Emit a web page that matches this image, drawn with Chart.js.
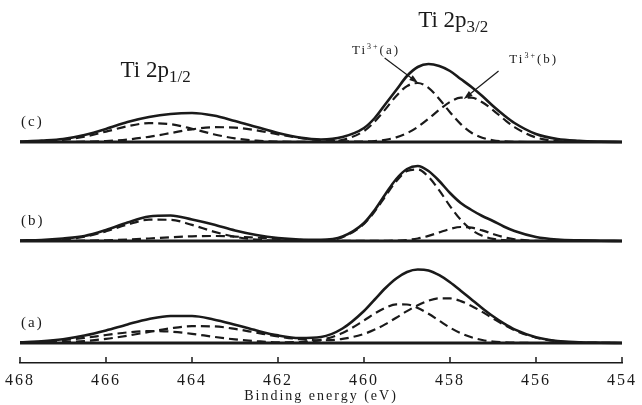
<!DOCTYPE html>
<html>
<head>
<meta charset="utf-8">
<script src="https://cdn.jsdelivr.net/npm/chart.js@4.4.1/dist/chart.umd.min.js"></script>
<style>
  html, body { margin: 0; padding: 0; background: #fff; }
  #wrap { width: 642px; height: 405px; }
</style>
</head>
<body>
<div id="wrap"><canvas id="c" width="642" height="405"></canvas></div>
<script>
// binding energy grid (eV), finer around the 2p3/2 peak
const energy = [468, 467.5, 467, 466.5, 466, 465.5, 465, 464.5, 464, 463.5, 463, 462.5, 462, 461.5, 461, 460.5,
                460, 459.75, 459.5, 459.25, 459, 458.75, 458.5, 458.25, 458, 457.75, 457.5, 457.25, 457, 456.75, 456.5,
                456, 455.5, 455, 454.5, 454];
const xTicks = [468, 466, 464, 462, 460, 458, 456, 454];

// intensities (arb. units, above each baseline)
const envA = [0.7, 1.7, 3.8, 7.5, 12.6, 18.6, 24, 27, 27, 23.6, 18.3, 12.5, 7.6, 5, 6, 14.5,
              32, 43.5, 55, 64.5, 71, 73.5, 72.5, 67.8, 60.8, 52.3, 43.5, 34.8, 26.7, 19.6, 13.6,
              5.8, 2, 0.8, 0.3, 0];
const ti3aA = [0.5, 1.3, 2.8, 5.1, 8.0, 10.6, 12, 11.4, 9.2, 6.2, 3.6, 1.8, 0.7, 1.0, 3.1, 10.0,
               22.5, 29.5, 35.3, 38.6, 38.5, 35.1, 29.2, 22.3, 15.4, 9.8, 5.7, 3.0, 1.4, 0.7, 0.3,
               0, 0, 0, 0, 0];
const ti3bA = [0.1, 0.3, 0.8, 2.0, 4.1, 7.3, 11.1, 14.7, 16.8, 16.6, 14.1, 10.3, 6.6, 3.8, 2.7, 4.1,
               9.1, 13.4, 18.9, 25.3, 31.9, 37.8, 42.4, 44.7, 44.6, 41.9, 37.1, 31.1, 24.6, 18.3, 12.8,
               5.3, 1.7, 0.5, 0.1, 0];

const envB = [0.5, 1, 2.5, 5, 11, 18.5, 24.5, 25.5, 21.5, 16.5, 10.5, 6, 3, 1.5, 1.2, 4.5,
              18, 31, 47, 62, 72, 75, 70, 60, 48, 38, 31, 25, 20, 14.5, 10,
              4, 1.5, 0.7, 0.3, 0];
const ti3aB = [0.1, 0.4, 1.5, 4.3, 9.7, 16.4, 21.3, 21.2, 16.1, 9.4, 4.2, 1.4, 0.4, 0.1, 0.5, 3.8,
               17.1, 29.6, 44.9, 59.8, 69.9, 71.5, 64.2, 50.6, 34.9, 21.2, 11.2, 5.2, 2.1, 0.8, 0.2,
               0, 0, 0, 0, 0];
const ti3bB = [0, 0, 0.1, 0.3, 0.7, 1.4, 2.5, 3.8, 4.7, 5.0, 4.4, 3.3, 2.1, 1.1, 0.5, 0.2,
               0.1, 0.1, 0.2, 0.4, 1.0, 2.5, 5.1, 8.6, 12, 14, 13.3, 10.6, 7, 3.8, 1.7,
               0.2, 0, 0, 0, 0];

const envC = [0.5, 1.5, 3, 7, 13, 20, 25, 28, 29, 26.5, 21, 15, 9, 4.5, 2.5, 5,
              14, 24, 38, 52, 66, 75, 78, 76, 71, 63, 55, 46, 36, 27, 19,
              8, 3, 1.2, 0.4, 0];
const ti3aC = [0.2, 0.7, 2.2, 5.4, 10.4, 15.8, 18.8, 17.8, 13.3, 7.8, 3.6, 1.3, 0.4, 0.1, 0.2, 2.1,
               11.0, 20.5, 32.9, 46.1, 55.9, 59, 54.1, 43.0, 29.8, 17.9, 9.3, 4.3, 1.7, 0.7, 0.2,
               0, 0, 0, 0, 0];
const ti3bC = [0, 0, 0.1, 0.3, 1.0, 2.5, 5.2, 8.9, 12.7, 14.8, 14.4, 11.6, 7.7, 4.2, 1.9, 0.7,
               0.5, 0.9, 2.2, 4.6, 8.8, 15.1, 23.3, 32.2, 40, 44.4, 44.3, 39.7, 31.9, 23, 14.9,
               4.5, 0.9, 0.1, 0, 0];

const spectrumNames = ['(a)', '(b)', '(c)'];
const offsets = [0, 102, 201];   // vertical stacking of the three spectra

const ink = '#1a1a1a';
const serif = '"Liberation Serif", "Times New Roman", serif';

function pts(vals, off) {
    return energy.map((e, i) => ({ x: e, y: off + vals[i] }));
}

const spectra = [
    [envA, ti3aA, ti3bA],
    [envB, ti3aB, ti3bB],
    [envC, ti3aC, ti3bC]
];

const datasets = [];
spectra.forEach((s, k) => {
    const off = offsets[k];
    datasets.push({
        data: [{ x: 468, y: off }, { x: 454, y: off }],
        borderColor: ink, borderWidth: 3.2, pointRadius: 0
    });
    datasets.push({
        data: pts(s[1], off), borderColor: ink, borderWidth: 2.2,
        borderDash: [9, 5], pointRadius: 0, cubicInterpolationMode: 'monotone'
    });
    datasets.push({
        data: pts(s[2], off), borderColor: ink, borderWidth: 2.2,
        borderDash: [9, 5], pointRadius: 0, cubicInterpolationMode: 'monotone'
    });
    datasets.push({
        data: pts(s[0], off), borderColor: ink, borderWidth: 2.6,
        pointRadius: 0, cubicInterpolationMode: 'monotone'
    });
});

// text with sub/superscripts: parts = [text, size, dy]
function richText(ctx, parts, x, y) {
    parts.forEach(p => {
        ctx.font = p[1] + 'px ' + serif;
        ctx.fillText(p[0], x, y + p[2]);
        x += ctx.measureText(p[0]).width;
    });
}

function arrow(ctx, x0, y0, x1, y1) {
    const a = Math.atan2(y1 - y0, x1 - x0);
    ctx.beginPath();
    ctx.moveTo(x0, y0);
    ctx.lineTo(x1 - 6 * Math.cos(a), y1 - 6 * Math.sin(a));
    ctx.stroke();
    ctx.beginPath();
    ctx.moveTo(x1, y1);
    ctx.lineTo(x1 - 9 * Math.cos(a) + 3 * Math.sin(a), y1 - 9 * Math.sin(a) - 3 * Math.cos(a));
    ctx.lineTo(x1 - 9 * Math.cos(a) - 3 * Math.sin(a), y1 - 9 * Math.sin(a) + 3 * Math.cos(a));
    ctx.closePath();
    ctx.fill();
}

const overlay = {
    id: 'overlay',
    beforeDraw(chart) {
        chart.ctx.letterSpacing = '2px';
    },
    afterDraw(chart) {
        const ctx = chart.ctx;
        const xs = chart.scales.x, ys = chart.scales.y;
        const area = chart.chartArea;
        const px = e => xs.getPixelForValue(e);
        const py = v => ys.getPixelForValue(v);

        ctx.save();
        ctx.strokeStyle = ink;
        ctx.fillStyle = ink;

        // tick marks pointing up from the axis
        ctx.lineWidth = 1.5;
        xTicks.forEach(t => {
            ctx.beginPath();
            ctx.moveTo(px(t), area.bottom);
            ctx.lineTo(px(t), area.bottom - 6);
            ctx.stroke();
        });

        // peak titles
        ctx.letterSpacing = '0px';
        ctx.textBaseline = 'alphabetic';
        ctx.textAlign = 'left';
        richText(ctx, [['Ti 2p', 23, 0], ['3/2', 17, 5]], px(458.74), py(316));
        richText(ctx, [['Ti 2p', 23, 0], ['1/2', 17, 5]], px(465.66), py(266));

        // component labels
        ctx.letterSpacing = '2px';
        richText(ctx, [['Ti', 13, 0], ['3+', 8, -5], ['(a)', 13, 0]], px(460.28), py(289));
        richText(ctx, [['Ti', 13, 0], ['3+', 8, -5], ['(b)', 13, 0]], px(456.62), py(280));

        ctx.lineWidth = 1.2;
        arrow(ctx, px(459.52), py(285), px(458.74), py(260));
        arrow(ctx, px(456.87), py(272), px(457.68), py(244));

        // spectrum labels
        ctx.textBaseline = 'middle';
        ctx.font = '15px ' + serif;
        spectrumNames.forEach((n, k) => {
            ctx.fillText(n, px(468) + 1, py(offsets[k] + 20));
        });
        ctx.restore();
    }
};

new Chart(document.getElementById('c'), {
    type: 'line',
    data: { datasets: datasets },
    options: {
        responsive: false,
        animation: false,
        devicePixelRatio: 1,
        layout: { padding: { left: 19, right: 14, top: 3, bottom: 0 } },
        plugins: { legend: { display: false }, tooltip: { enabled: false } },
        scales: {
            x: {
                type: 'linear',
                reverse: true,
                min: 454,
                max: 468,
                afterFit: s => { s.height = 42; },
                afterBuildTicks: s => { s.ticks = xTicks.map(v => ({ value: v })); },
                border: { display: true, color: ink, width: 1.5 },
                grid: { display: true, drawOnChartArea: false, drawTicks: false },
                ticks: {
                    color: ink,
                    padding: 8,
                    maxRotation: 0,
                    autoSkip: false,
                    font: { family: serif, size: 16 }
                },
                title: {
                    display: true,
                    text: 'Binding energy (eV)',
                    color: ink,
                    padding: 0,
                    font: { family: serif, size: 14 }
                }
            },
            y: {
                type: 'linear',
                display: false,
                min: -20,
                max: 340
            }
        }
    },
    plugins: [overlay]
});
</script>
</body>
</html>
